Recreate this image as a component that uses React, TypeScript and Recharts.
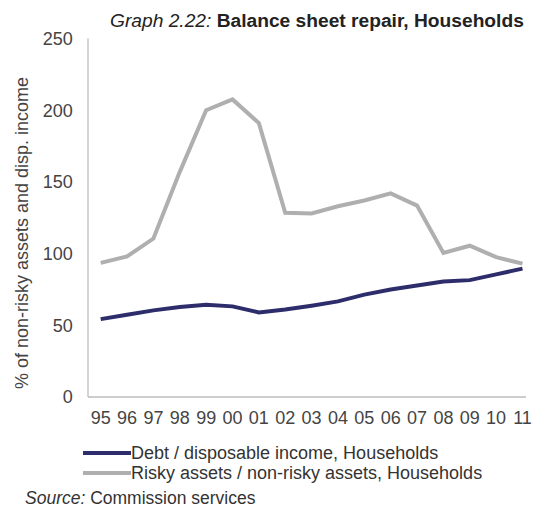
import { LineChart, Line, XAxis, YAxis } from "recharts";

const years = ["95", "96", "97", "98", "99", "00", "01", "02", "03", "04", "05", "06", "07", "08", "09", "10", "11"];
const debtToIncome = [54.3, 57.4, 60.4, 62.7, 64.4, 63.2, 59, 61, 63.7, 66.7, 71.4, 75, 77.7, 80.5, 81.5, 85.5, 89.5];
const riskyToNonRisky = [93.5, 98, 110.5, 157, 200, 207.5, 191, 128.5, 128, 133, 137, 142, 133.5, 100.5, 105.5, 97.5, 93];
const yTicks = [0, 50, 100, 150, 200, 250];

const DEBT_COLOR = "#2e2d6b";
const RISKY_COLOR = "#afafaf";
const FONT = "'Liberation Sans', Arial, sans-serif";

const data = years.map((year, i) => ({
  year,
  debt: debtToIncome[i],
  risky: riskyToNonRisky[i],
}));

const legendItems = [
  { label: "Debt / disposable income, Households", color: DEBT_COLOR },
  { label: "Risky assets / non-risky assets, Households", color: RISKY_COLOR },
];

export default function App() {
  return (
    <div
      style={{
        position: "absolute",
        left: 0,
        top: 0,
        width: 534,
        height: 508,
        background: "#fff",
        fontFamily: FONT,
        color: "#333",
        overflow: "hidden",
      }}
    >
      <div style={{ position: "absolute", left: 110, top: 10.5, fontSize: 19.2, lineHeight: 1, whiteSpace: "nowrap", color: "#222" }}>
        <i>Graph 2.22:</i> <b>Balance sheet repair, Households</b>
      </div>

      <div style={{ position: "absolute", left: 0, top: 0 }}>
        <LineChart width={534} height={430} data={data} margin={{ top: 38.5, right: 8, bottom: 0, left: 0 }}>
          <XAxis
            dataKey="year"
            interval={0}
            tickLine={false}
            tickSize={0}
            tickMargin={14.6}
            height={33}
            padding={{ left: 12.7, right: 3.5 }}
            axisLine={{ stroke: "#bdbdbd", strokeWidth: 1.3 }}
            tick={{ fill: "#444", fontSize: 18, fontFamily: FONT }}
          />
          <YAxis
            domain={[0, 250]}
            ticks={yTicks}
            width={88}
            tickLine={false}
            tickSize={0}
            tickMargin={15.3}
            axisLine={{ stroke: "#bdbdbd", strokeWidth: 1.3 }}
            tick={{ fill: "#444", fontSize: 18, fontFamily: FONT }}
            label={{
              content: () => (
                <text
                  x={21.7}
                  y={233}
                  transform="rotate(-90 21.7 233)"
                  textAnchor="middle"
                  dy="0.35em"
                  fill="#444"
                  fontSize={18}
                  fontFamily={FONT}
                >
                  % of non-risky assets and disp. income
                </text>
              ),
            }}
          />
          <Line type="linear" dataKey="risky" stroke={RISKY_COLOR} strokeWidth={4} dot={false} isAnimationActive={false} />
          <Line type="linear" dataKey="debt" stroke={DEBT_COLOR} strokeWidth={4} dot={false} isAnimationActive={false} />
        </LineChart>
      </div>

      {legendItems.map((item, i) => (
        <div key={item.label} style={{ position: "absolute", left: 83, top: 452.7 + i * 20.6 - 9, height: 18, whiteSpace: "nowrap" }}>
          <div style={{ position: "absolute", left: 0, top: 7, width: 48, height: 4, background: item.color }} />
          <div style={{ position: "absolute", left: 48, top: 0, fontSize: 18, lineHeight: "18px", color: "#333" }}>{item.label}</div>
        </div>
      ))}

      <div style={{ position: "absolute", left: 25, top: 490, fontSize: 17.5, lineHeight: 1, whiteSpace: "nowrap", color: "#333" }}>
        <i>Source:</i> Commission services
      </div>
    </div>
  );
}
